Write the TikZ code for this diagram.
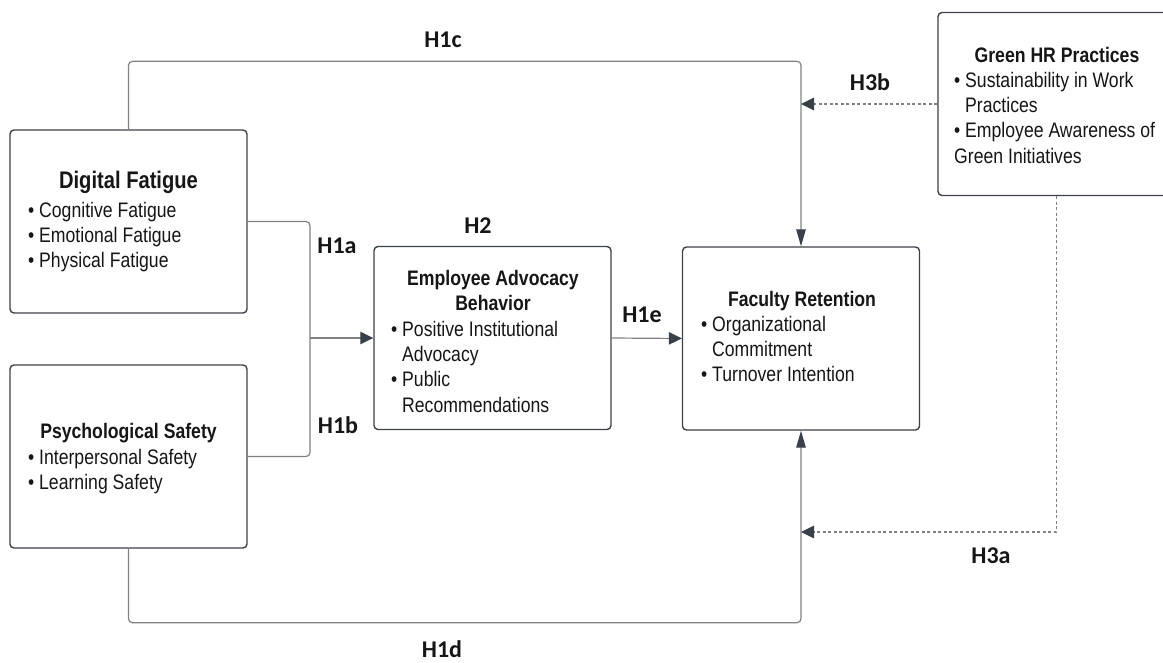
\documentclass[tikz,border=0pt]{standalone}
\usepackage{fontspec}
\setmainfont{Liberation Sans}[FakeStretch=0.84]
\newfontfamily\hfont{Carlito}
\usetikzlibrary{arrows.meta}
\definecolor{boxc}{HTML}{3D4249}
\definecolor{linec}{HTML}{7E8286}
\definecolor{tipc}{HTML}{3A404A}
\definecolor{txtc}{HTML}{161616}
\newcommand{\bitem}{\makebox[11pt][l]{•}}
\newcommand{\bcont}{\hspace*{11pt}}
\begin{document}
\begin{tikzpicture}[x=1pt,y=-1pt,
 box/.style={draw=boxc,fill=white,line width=1.4pt,rounded corners=4pt,minimum width=237pt,minimum height=183pt,inner sep=0pt},
 ttl/.style={anchor=base,inner sep=0pt,text=txtc,font=\fontsize{21}{25.4}\selectfont\bfseries},
 lst/.style={anchor=base west,inner sep=0pt,text=txtc,font=\fontsize{21}{25.4}\selectfont},
 hyp/.style={anchor=base,inner sep=0pt,text=txtc,font=\hfont\fontsize{24}{28}\selectfont\bfseries},
 conn/.style={draw=linec,line width=1.2pt,rounded corners=4pt},
 htip/.style={-{Triangle[length=13pt,width=12.5pt,color=tipc]}},
 vtip/.style={-{Triangle[length=17pt,width=9.5pt,color=tipc]}},
 dsh/.style={conn,dash pattern=on 3pt off 2.5pt,rounded corners=0pt}]
\useasboundingbox (0,0) rectangle (1163,662);
\clip (0,0) rectangle (1163,662);
\fill[white] (0,0) rectangle (1163,662);
% boxes
\node[box] (df) at (128.5,221.5) {};
\node[box] (ps) at (128.5,456.5) {};
\node[box] (eab) at (492.5,338) {};
\node[box] (fr) at (801,338.5) {};
\node[box] (gr) at (1056.5,104) {};
% box texts
\node[ttl,font=\fontsize{24}{28}\selectfont\bfseries] (dft) at (128.5,188) {Digital Fatigue};
\node[lst] (dfl) at (28,217) {\begin{tabular}[t]{@{}l@{}}\bitem Cognitive Fatigue\\\bitem Emotional Fatigue\\\bitem Physical Fatigue\end{tabular}};
\node[ttl] (pst) at (128.5,438) {Psychological Safety};
\node[lst] (psl) at (28,464) {\begin{tabular}[t]{@{}l@{}}\bitem Interpersonal Safety\\\bitem Learning Safety\end{tabular}};
\node[ttl] (eabt) at (493,285) {\begin{tabular}[t]{@{}c@{}}Employee Advocacy\\Behavior\end{tabular}};
\node[lst] (eabl) at (391,336) {\begin{tabular}[t]{@{}l@{}}\bitem Positive Institutional\\\bcont Advocacy\\\bitem Public\\\bcont Recommendations\end{tabular}};
\node[ttl] (frt) at (802,306) {Faculty Retention};
\node[lst] (frl) at (701,331) {\begin{tabular}[t]{@{}l@{}}\bitem Organizational\\\bcont Commitment\\\bitem Turnover Intention\end{tabular}};
\node[ttl] (grt) at (1057,62) {Green HR Practices};
\node[lst] (grl) at (954,87) {\begin{tabular}[t]{@{}l@{}}\bitem Sustainability in Work\\\bcont Practices\\\bitem Employee Awareness of\\Green Initiatives\end{tabular}};
% connectors
\coordinate (j) at (310,338);
\draw[conn] (df.east) -| (j);
\draw[conn] (ps.east) -| (j);
\draw[conn,htip] (j) -- (eab.west);
\draw[conn,htip] (eab.east) -- (fr.west);
\draw[conn,vtip] (df.north) -- ++(0,-68) -| (fr.north);
\draw[conn,vtip] (ps.south) -- ++(0,74) -| (fr.south);
\draw[dsh,htip] (gr.west) -- (gr.west -| fr.north);
\coordinate (h3a) at (801,532);
\draw[dsh,htip] (gr.south) |- (h3a);
% hypothesis labels
\node[hyp] (l1c) at (443,47) {H1c};
\node[hyp] (l1a) at (337,253) {H1a};
\node[hyp] (l1b) at (338,433) {H1b};
\node[hyp] (l2) at (478,233) {H2};
\node[hyp] (l1e) at (642,322) {H1e};
\node[hyp] (l3b) at (870,90) {H3b};
\node[hyp] (l3a) at (991,563) {H3a};
\node[hyp] (l1d) at (442,657) {H1d};
\end{tikzpicture}
\end{document}
